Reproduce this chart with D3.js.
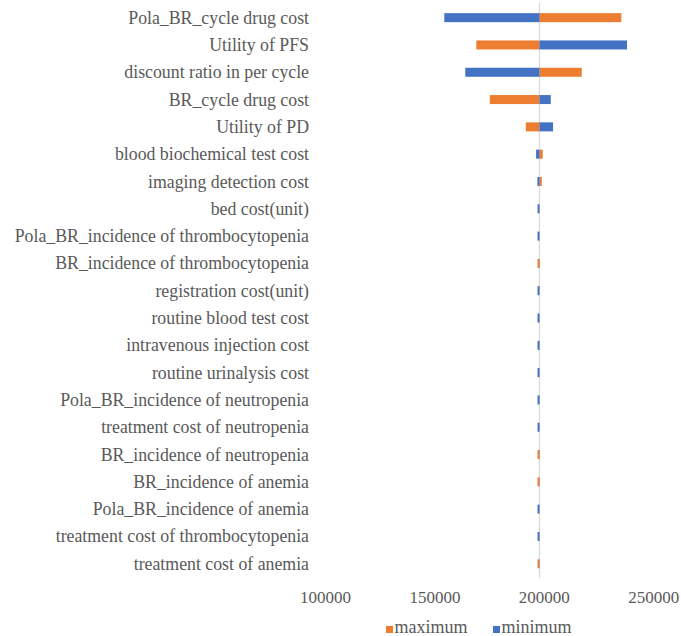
<!DOCTYPE html>
<html>
<head>
<meta charset="utf-8">
<script src="https://cdn.jsdelivr.net/npm/d3@7/dist/d3.min.js"></script>
<style>
  html, body { margin: 0; padding: 0; background: #ffffff; }
  svg { display: block; }
  svg text { font-family: 'Liberation Serif', 'Times New Roman', Times; fill: #595959; }
</style>
</head>
<body>
<svg id="chart" width="681" height="636"></svg>
<script>
// One-way sensitivity analysis (tornado diagram)
const categories = [
  "Pola_BR_cycle drug cost",
  "Utility of PFS",
  "discount ratio in per cycle",
  "BR_cycle drug cost",
  "Utility of PD",
  "blood biochemical test cost",
  "imaging detection cost",
  "bed cost(unit)",
  "Pola_BR_incidence of thrombocytopenia",
  "BR_incidence of thrombocytopenia",
  "registration cost(unit)",
  "routine blood test cost",
  "intravenous injection cost",
  "routine urinalysis cost",
  "Pola_BR_incidence of neutropenia",
  "treatment cost of neutropenia",
  "BR_incidence of neutropenia",
  "BR_incidence of anemia",
  "Pola_BR_incidence of anemia",
  "treatment cost of thrombocytopenia",
  "treatment cost of anemia"
];

// Result with each parameter at its upper bound
const maximum = [
  235400, 169150, 217300, 175300, 191750, 199500, 199050,
  198100, 198100, 197100, 198100, 198100, 198100, 198100,
  198100, 198100, 197100, 197100, 198100, 198100, 197100
];

// Result with each parameter at its lower bound
const minimum = [
  154500, 238000, 164100, 203150, 204200, 196450, 197050,
  197100, 197100, 198100, 197100, 197100, 197100, 197100,
  197100, 197100, 198100, 198100, 197100, 197100, 198100
];

const baseValue = 198000;
const tickValues = [100000, 150000, 200000, 250000];

const seriesNames = ["maximum", "minimum"];
const seriesColors = { maximum: "#ED7D31", minimum: "#4472C4" };

function draw() {
  const svg = d3.select("#chart");
  svg.selectAll("*").remove();

  const x = d3.scaleLinear()
    .domain([100000, 250000])
    .range([325, 653.3]);

  const y = d3.scaleBand()
    .domain(categories)
    .range([4, 577.4])
    .paddingInner(0.67)
    .paddingOuter(0.335);

  // Category labels
  svg.append("g")
    .selectAll("text")
    .data(categories)
    .join("text")
    .attr("x", 309)
    .attr("y", d => y(d) + y.bandwidth() / 2)
    .attr("dy", "0.34em")
    .attr("text-anchor", "end")
    .style("font-size", "17.8px")
    .text(d => d);

  // Vertical axis line at the base case
  svg.append("line")
    .attr("x1", x(baseValue)).attr("x2", x(baseValue))
    .attr("y1", 3).attr("y2", 578)
    .attr("stroke", "#d9d9d9")
    .attr("stroke-width", 1.3);

  // Bars extending from the base case
  const rows = categories.map((c, i) => ({ c, maximum: maximum[i], minimum: minimum[i] }));
  seriesNames.forEach(s => {
    svg.append("g")
      .selectAll("rect")
      .data(rows)
      .join("rect")
      .attr("x", d => x(Math.min(d[s], baseValue)))
      .attr("width", d => Math.abs(x(d[s]) - x(baseValue)))
      .attr("y", d => y(d.c))
      .attr("height", y.bandwidth())
      .attr("fill", seriesColors[s]);
  });

  // Horizontal axis tick labels
  const xAxis = d3.axisBottom(x).tickValues(tickValues).tickFormat(d3.format("d")).tickSize(0);
  const axisG = svg.append("g")
    .attr("transform", "translate(0,586)")
    .call(xAxis);
  axisG.attr("font-family", null).attr("font-size", null);
  axisG.select(".domain").remove();
  axisG.selectAll("text")
    .attr("dy", "0")
    .attr("y", 17)
    .attr("fill", null)
    .style("font-size", "17px");

  // Legend
  const legendItems = [
    { name: "maximum", x: 386 },
    { name: "minimum", x: 493 }
  ];
  const lg = svg.append("g");
  legendItems.forEach(it => {
    lg.append("rect")
      .attr("x", it.x).attr("y", 626)
      .attr("width", 7).attr("height", 7)
      .attr("fill", seriesColors[it.name]);
    lg.append("text")
      .attr("x", it.x + 8.5).attr("y", 632.5)
      .style("font-size", "18px")
      .text(it.name);
  });
}

draw();
if (document.fonts && document.fonts.load) {
  document.fonts.load("18px 'Liberation Serif'").then(draw, draw);
}
</script>
</body>
</html>
